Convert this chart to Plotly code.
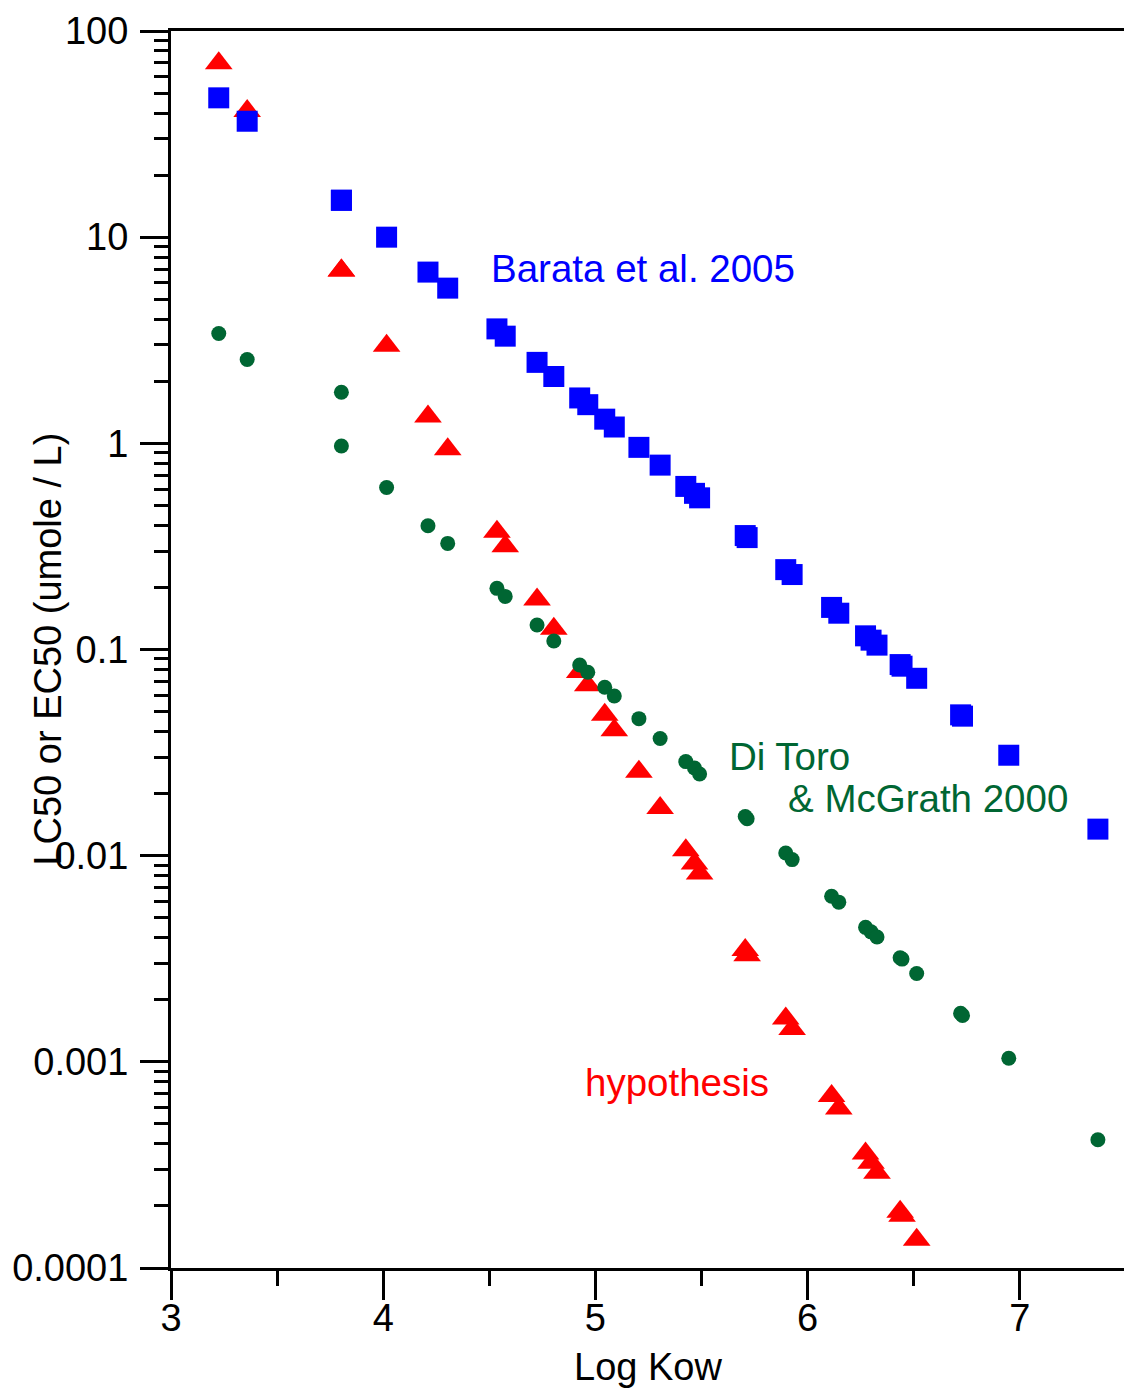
import plotly.graph_objects as go

# Log Kow of each compound (shared by all three series)
log_kow = [3.225, 3.359, 3.803, 3.803, 4.016, 4.211, 4.304, 4.536, 4.575, 4.725,
           4.804, 4.926, 4.964, 5.044, 5.089, 5.205, 5.305, 5.426, 5.467, 5.491,
           5.706, 5.715, 5.897, 5.927, 6.113, 6.147, 6.273, 6.299, 6.327, 6.436,
           6.445, 6.514, 6.721, 6.730, 6.948, 7.368]

# LC50 / EC50 values (umole / L)
barata_2005 = [47.4, 36.5, 15.1, 15.1, 10.0, 6.77, 5.66, 3.59, 3.31, 2.47,
               2.11, 1.66, 1.54, 1.31, 1.20, 0.956, 0.784, 0.618, 0.572, 0.544,
               0.357, 0.349, 0.244, 0.231, 0.160, 0.150, 0.1165, 0.111, 0.105, 0.0845,
               0.0830, 0.0725, 0.0482, 0.0475, 0.0307, 0.01345]

ditoro_mcgrath_2000 = [3.41, 2.55, 1.77, 0.970, 0.611, 0.398, 0.327, 0.198, 0.181, 0.1315,
                       0.110, 0.0841, 0.0775, 0.0656, 0.0595, 0.0462, 0.0370, 0.0286, 0.0266, 0.0249,
                       0.0155, 0.0151, 0.0103, 0.00957, 0.00636, 0.00595, 0.00449, 0.00427, 0.00403, 0.00320,
                       0.00315, 0.00268, 0.00172, 0.00168, 0.00104, 0.000419]

hypothesis = [69.7, 40.9, 6.89, 6.89, 2.97, 1.351, 0.935, 0.373, 0.317, 0.1747,
              0.1262, 0.0778, 0.0671, 0.0483, 0.0406, 0.02556, 0.01704, 0.01063, 0.00915, 0.00819,
              0.00349, 0.00329, 0.001623, 0.001442, 0.000682, 0.000594, 0.000359, 0.000324, 0.00029, 0.0001875,
              0.0001793, 0.0001372, None, None, None, None]

x_ticks = [3, 4, 5, 6, 7]
x_minor_ticks = [3.5, 4.5, 5.5, 6.5]
y_ticks = [100, 10, 1, 0.1, 0.01, 0.001, 0.0001]
y_tick_labels = ["100", "10", "1", "0.1", "0.01", "0.001", "0.0001"]
y_minor_ticks = [d * 10.0 ** e for e in range(-4, 2) for d in range(2, 10)]

RED = "#FF0000"
BLUE = "#0000FF"
GREEN = "#006633"
FONT = "Liberation Sans, Arial, sans-serif"

fig = go.Figure()
fig.add_trace(go.Scatter(x=log_kow, y=hypothesis, mode="markers", name="hypothesis",
                         marker=dict(symbol="triangle-up", size=24, color=RED, line=dict(width=0))))
fig.add_trace(go.Scatter(x=log_kow, y=ditoro_mcgrath_2000, mode="markers", name="Di Toro & McGrath 2000",
                         marker=dict(symbol="circle", size=15, color=GREEN, line=dict(width=0))))
fig.add_trace(go.Scatter(x=log_kow, y=barata_2005, mode="markers", name="Barata et al. 2005",
                         marker=dict(symbol="square", size=21, color=BLUE, line=dict(width=0))))

fig.update_layout(
    width=1124, height=1392,
    margin=dict(l=171, r=0, t=31, b=124),
    paper_bgcolor="white", plot_bgcolor="white",
    showlegend=False,
    font=dict(family=FONT, size=38, color="black"),
    xaxis=dict(
        range=[3, 7.491], showgrid=False, zeroline=False,
        showline=True, linewidth=3, linecolor="black", mirror=True,
        tickmode="array", tickvals=x_ticks, ticks="outside", ticklen=29, tickwidth=3,
        tickcolor="black", tickfont=dict(size=38), ticklabelstandoff=-15,
        minor=dict(tickmode="array", tickvals=x_minor_ticks, ticks="outside",
                   ticklen=15, tickwidth=3, tickcolor="black", showgrid=False),
    ),
    yaxis=dict(
        type="log", range=[-4, 2], showgrid=False, zeroline=False,
        showline=True, linewidth=3, linecolor="black",
        tickmode="array", tickvals=y_ticks, ticktext=y_tick_labels,
        ticks="outside", ticklen=28, tickwidth=3, tickcolor="black",
        tickfont=dict(size=38), ticklabelstandoff=4,
        minor=dict(tickmode="array", tickvals=y_minor_ticks, ticks="outside",
                   ticklen=14, tickwidth=3, tickcolor="black", showgrid=False),
    ),
)

annotations = [
    dict(text="Barata et al. 2005", x=4.50, y=0.85, color=BLUE),
    dict(text="Di Toro", x=5.621, y=-1.521, color=GREEN),
    dict(text="&amp; McGrath 2000", x=5.897, y=-1.725, color=GREEN),
    dict(text="hypothesis", x=4.943, y=-3.10, color=RED),
]
for a in annotations:
    fig.add_annotation(x=a["x"], y=a["y"], xref="x", yref="y", text=a["text"],
                       showarrow=False, xanchor="left", yanchor="middle",
                       font=dict(family=FONT, size=38.5, color=a["color"]))

# axis titles
fig.add_annotation(text="Log Kow", xref="paper", yref="paper", x=0.5, y=-0.0797,
                   showarrow=False, xanchor="center", yanchor="middle",
                   font=dict(family=FONT, size=38, color="black"))
fig.add_annotation(text="LC50 or EC50 (umole / L)", xref="paper", yref="paper",
                   x=-0.130, y=0.5, textangle=-90, showarrow=False,
                   xanchor="center", yanchor="middle",
                   font=dict(family=FONT, size=38, color="black"))

fig.write_html("out.html")
